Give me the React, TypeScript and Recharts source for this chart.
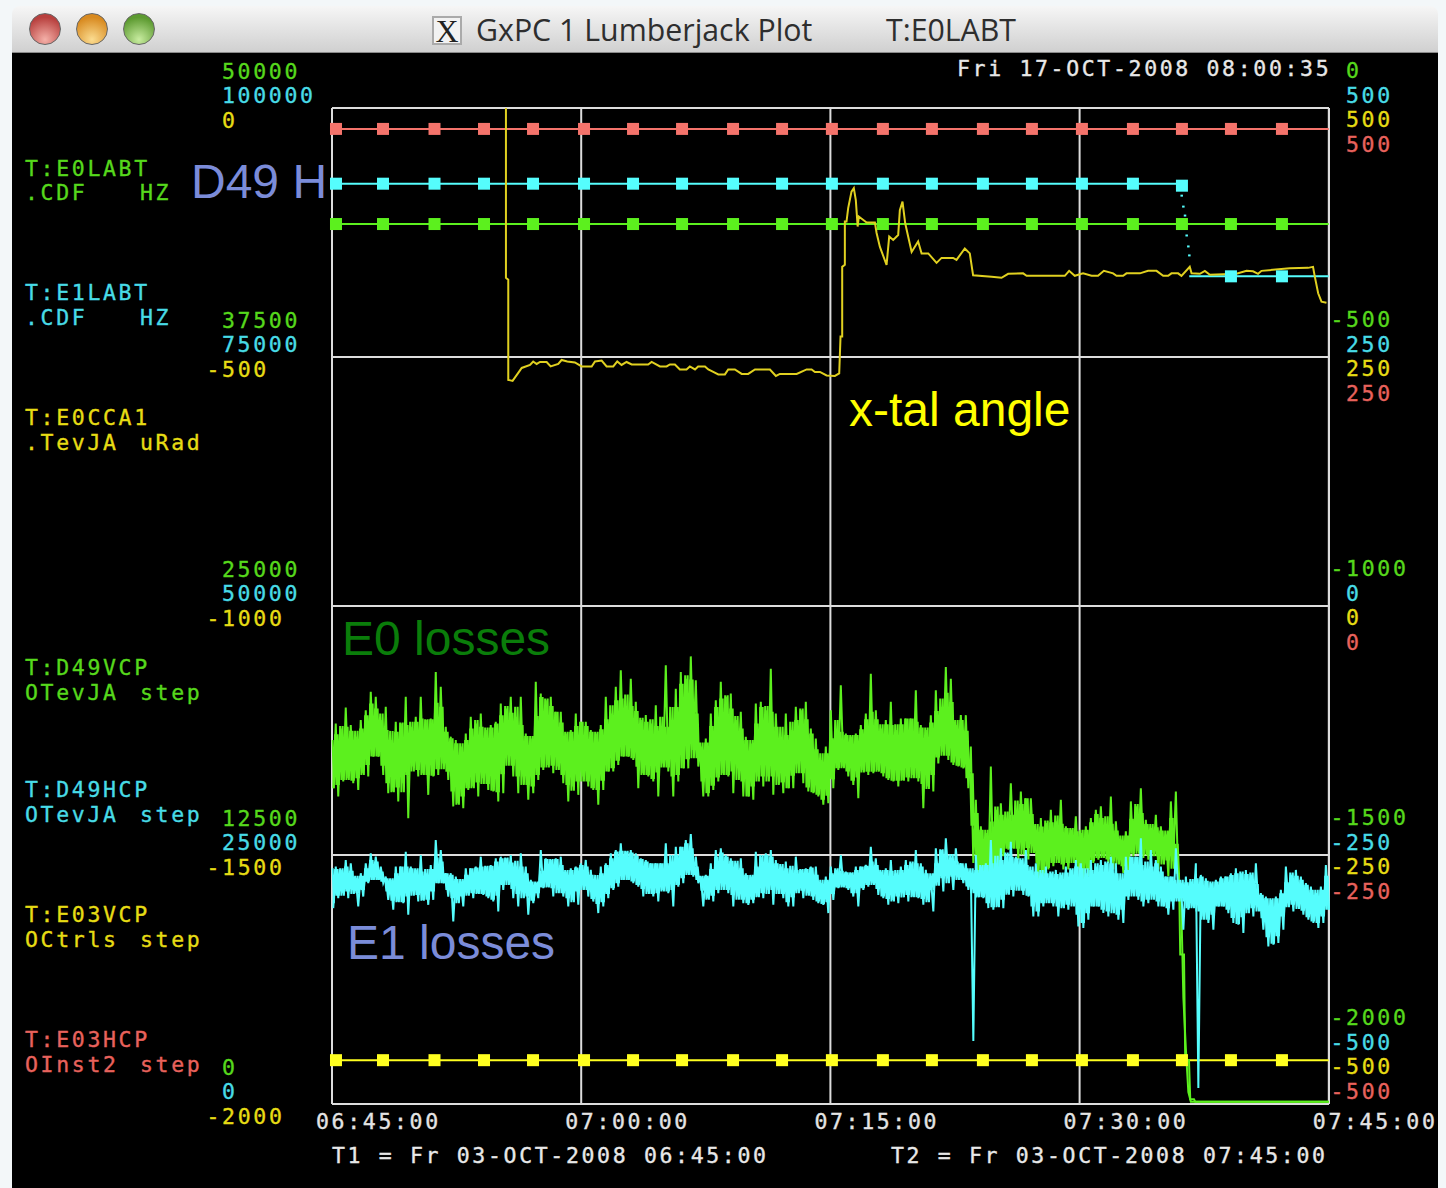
import { CartesianGrid, Line, LineChart, XAxis, YAxis } from "recharts";

const GREEN = "#5cf01e";
const CYAN = "#55fdfd";
const YELLOW = "#ffff20";
const RED = "#f4736b";
const GREEN_TEXT = "#56d81c";
const CYAN_TEXT = "#48dbe6";
const YELLOW_TEXT = "#e6dc14";
const RED_TEXT = "#e8625c";
const MONO = "'DejaVu Sans Mono', monospace";
const SANS = "'Liberation Sans', Arial, sans-serif";
const MONO_SIZE = 21.5;
const MONO_GAP = 2.65;
const MONO_STROKE = 0.35;

// minutes after 06:45:00
const timeTicks = [0, 15, 30, 45, 60];
const timeLabels = ["06:45:00", "07:00:00", "07:15:00", "07:30:00", "07:45:00"];

const stepTimes = [0, 0.24, 3.07, 6.17, 9.15, 12.1, 15.17, 18.12, 21.07, 24.14, 27.09, 30.09, 33.16, 36.11, 39.18, 42.13, 45.14, 48.21, 51.16, 54.11, 57.18, 60];
const markerTimes = [0.24, 3.07, 6.17, 9.15, 12.1, 15.17, 18.12, 21.07, 24.14, 27.09, 30.09, 33.16, 36.11, 39.18, 42.13, 45.14, 48.21, 51.16, 54.11, 57.18];

const d49vLevel = -233;
const e03vLevel = -456;
const e03hLevel = 479;

// D49H sits at 424, then steps down to 331
const d49hTimes = [0, 0.24, 3.07, 6.17, 9.15, 12.1, 15.17, 18.12, 21.07, 24.14, 27.09, 30.09, 33.16, 36.11, 39.18, 42.13, 45.14, 48.21, 51.15, 51.16, 51.4, 51.6, 54.11, 57.18, 60];
const d49hValues = [424, 424, 424, 424, 424, 424, 424, 424, 424, 424, 424, 424, 424, 424, 424, 424, 424, 424, 424, 422, null, 331, 331, 331, 331];
const d49hDropTimes = [51.13, 51.23, 51.33, 51.43, 51.53, 51.59];
const d49hDropValues = [412, 401, 392, 372, 361, 352];

// crystal angle, uRad
const angleTimes = [
  10.47, 10.47, 10.61, 10.61, 10.87, 11.21, 11.42, 11.92, 12.11, 12.32, 12.52, 12.92, 13.16, 13.62, 13.82, 14.16, 14.62, 15.03, 15.63, 15.83,
  16.23, 16.53, 16.93, 17.17, 17.43, 17.73, 18.04, 19.03, 19.24, 19.74, 20.14, 20.34, 20.64, 20.94, 21.34, 21.54, 21.85, 22.04, 22.45, 22.65,
  22.95, 23.25, 23.65, 23.85, 24.25, 24.66, 25.05, 25.46, 26.36, 26.72, 26.96, 27.97, 28.57, 28.87, 29.07, 29.37, 29.77, 30.27, 30.53, 30.61,
  30.71, 30.71, 30.87, 30.87, 30.97, 31.07, 31.27, 31.41, 31.53, 31.64, 31.71, 32.18, 32.68, 32.78, 32.98, 33.38, 33.54, 33.78, 34.08, 34.18,
  34.34, 34.5, 34.68, 34.89, 35.28, 35.49, 35.89, 36.39, 36.69, 37.39, 37.59, 38.09, 38.39, 38.59, 39.7, 40.3, 40.7, 41.6, 41.81, 44.11,
  44.37, 44.71, 45.21, 45.72, 46.11, 46.46, 47.02, 47.22, 47.62, 47.82, 48.63, 49.12, 49.63, 50.03, 50.33, 50.53, 50.93, 51.13, 51.63, 51.74,
  52.24, 52.54, 52.84, 54.44, 55.05, 55.44, 55.74, 55.95, 57.65, 58.75, 59.05, 59.16, 59.36, 59.56, 59.86,
];
const angleValues = [
  0, -341, -345, -546, -548, -532, -522, -516, -509, -514, -510, -510, -519, -514, -506, -509, -511, -519, -519, -509,
  -507, -519, -519, -509, -516, -510, -515, -515, -510, -519, -519, -515, -515, -525, -525, -519, -525, -519, -519, -525,
  -530, -535, -535, -525, -525, -534, -534, -525, -525, -538, -534, -534, -525, -525, -530, -530, -537, -538, -533, -459,
  -459, -319, -315, -228, -228, -201, -168, -161, -185, -238, -218, -230, -230, -251, -279, -315, -258, -265, -255, -205,
  -188, -231, -258, -289, -268, -292, -292, -311, -301, -301, -305, -282, -292, -336, -339, -341, -333, -332, -337, -337,
  -327, -337, -332, -337, -337, -327, -332, -337, -337, -332, -332, -327, -327, -337, -337, -332, -332, -337, -319, -332,
  -333, -327, -335, -333, -327, -328, -333, -327, -322, -321, -319, -339, -372, -389, -391,
];

// E0 / E1 losses: top and bottom of the noise band per sample, Hz
const SAMPLE_MINUTES = 0.301;
const greenHi = [
  18270, 19100, 18850, 19900, 19020, 18440, 19270, 19770, 20690, 20440, 19270, 19940, 18270, 19190, 19100, 20440, 18940, 19440, 20440, 19270,
  19350, 21690, 20940, 18940, 18440, 18270, 17940, 18600, 19440, 19100, 19600, 18770, 19020, 19190, 20100, 19850, 20440, 19440, 20440, 18600,
  18350, 21190, 20600, 20270, 20440, 19690, 19690, 18600, 18770, 19600, 19190, 19190, 18770, 18600, 19020, 20440, 19600, 20940, 21770, 19770,
  21350, 20190, 19270, 19520, 19100, 20020, 18850,
  22020, 19020, 20850, 21690, 21350, 22470, 21270, 17940, 18350, 19600, 20270, 21190, 20440, 20600, 19270, 19690, 18440, 18100, 20100, 20190,
  19770, 21850, 19600, 18270, 19600, 18770, 19940, 19770, 20190, 18850, 18350, 17270, 17940, 19770, 18770, 21020, 18600, 18440, 18600, 19020,
  19600, 21600, 19770, 18850, 19270, 20190, 18770, 19350, 19350, 19350, 20770, 19020, 18770, 19520, 20770, 19940, 21940, 21350, 19020, 19520,
  19520, 17940, 15270, 13940, 13600, 16940, 14770,
  15100, 14270, 16100, 14770, 15690, 15350, 15350, 13770, 14350, 14100, 14770, 14190, 15270, 13940, 13770, 14440, 13600, 13940, 14350, 14770,
  14940, 13940, 15440, 14190, 13270, 13690, 15190, 14940, 15850, 14270, 13850, 14520, 13940, 13520, 15190, 15690, 10940, 2770, 110,
  110, 110, 110, 110, 110, 110, 110, 110, 110, 110, 110, 110, 110, 110, 110, 110, 110, 110, 110, 110, 110, 110, 110, 110, 110, 110, 110,
];
const greenLo = [
  15850, 15440, 16190, 16350, 16100, 15770, 16600, 16440, 17440, 17440, 16520, 15600, 15690, 15190, 16100, 14350, 16940, 16440, 16600, 15520,
  16440, 16520, 17100, 16270, 14940, 15100, 14850, 15770, 15940, 15440, 16350, 15770, 15690, 15190, 15600, 17520, 16440, 15600, 16440, 15270,
  15600, 16270, 16770, 17020, 16600, 16940, 16100, 15190, 15940, 15520, 16440, 15940, 15770, 15020, 15770, 16690, 16690, 17020, 17440, 17440,
  17270, 15850, 16600, 16440, 16190, 15440, 17100,
  16690, 15440, 16190, 16850, 16850, 17770, 16940, 15440, 15440, 15770, 16190, 16600, 16440, 15600, 16940, 15440, 15440, 15270, 16440, 15940,
  16440, 15520, 16440, 15600, 15850, 15850, 17100, 16100, 15690, 15600, 15440, 15020, 15100, 15850, 16770, 16940, 16440, 16020, 15350, 16770,
  16520, 16600, 16770, 16440, 16270, 16190, 15940, 16270, 16190, 16520, 16190, 14850, 15940, 15690, 17100, 17690, 17270, 17020, 16940, 16850,
  15850, 12100, 11270, 11270, 11270, 11270, 11270,
  12440, 12770, 12850, 12270, 12770, 12270, 12940, 11270, 11270, 11770, 11940, 12270, 11770, 11770, 12440, 11770, 11270, 11440, 12100, 12270,
  12440, 12100, 11770, 12270, 11600, 11190, 12440, 12690, 12350, 12270, 12600, 11770, 12270, 11440, 12190, 10940, 5350, 600, 110,
  110, 110, 110, 110, 110, 110, 110, 110, 110, 110, 110, 110, 110, 110, 110, 110, 110, 110, 110, 110, 110, 110, 110, 110, 110, 110, 110,
];
const cyanHi = [
  23670, 23830, 23500, 24500, 24170, 22670, 23170, 24170, 25170, 24830, 23830, 22830, 22500, 23830, 23830, 25330, 23830, 23500, 25000, 23170,
  24000, 26500, 25500, 23170, 23170, 22830, 22330, 23670, 23670, 23830, 24830, 23830, 24000, 24670, 24830, 24670, 25000, 23830, 25170, 23830,
  22500, 22170, 25500, 24670, 24500, 24670, 24830, 23330, 23670, 23830, 24170, 24500, 23500, 22500, 23830, 24170, 25170, 25500, 26170, 25330,
  25500, 25170, 24670, 24500, 24170, 24170, 24170,
  26170, 24170, 25830, 25830, 26500, 27100, 24830, 22830, 23000, 24170, 25500, 25670, 25000, 24670, 24170, 24670, 23170, 22830, 25330, 24830,
  25170, 25500, 24500, 23830, 24330, 23500, 24830, 23500, 23670, 23830, 23830, 22170, 22830, 23830, 23500, 25000, 23330, 23170, 23830, 23830,
  24000, 25830, 24670, 23330, 23670, 24500, 23170, 23830, 24500, 24170, 25500, 24170, 23500, 22830, 25670, 25500, 26670, 24500, 25670, 24170,
  24170, 23170, 25000, 23830, 24170, 26500, 24170,
  25670, 24830, 26330, 24830, 24500, 25500, 23500, 24170, 23170, 23830, 23170, 23500, 23000, 23830, 23500, 24500, 24170, 23170, 24500, 23830,
  24500, 24170, 24830, 24170, 22170, 24830, 24830, 24830, 26670, 23170, 25500, 24500, 23830, 22830, 22830, 25670, 22170, 22830, 22330, 24170,
  23000, 22670, 22170, 22500, 22830, 22830, 23170, 23670, 23170, 23500, 23000, 24170, 21170, 20830, 20500, 20830, 21500, 23830, 23000, 23500,
  22830, 22170, 21830, 21170, 21830, 24000,
];
const cyanLo = [
  19670, 20670, 21170, 20670, 21500, 19830, 20830, 22170, 22500, 22500, 22170, 20500, 19500, 20330, 20170, 19000, 21500, 20330, 20500, 20000,
  20500, 22170, 22170, 20830, 18330, 20500, 19830, 21170, 20670, 21170, 21000, 20670, 20330, 19330, 21500, 22500, 20670, 19830, 21500, 19000,
  20170, 20670, 21670, 21830, 20830, 21500, 20830, 19830, 20500, 20000, 22170, 20830, 20330, 19170, 19830, 20670, 21500, 21830, 22500, 22500,
  22170, 21830, 20830, 21330, 20830, 20330, 21500,
  21170, 19830, 21830, 22170, 23170, 22830, 22170, 19830, 20670, 20330, 21170, 21830, 21170, 19830, 20830, 20170, 20000, 20170, 20830, 20670,
  21500, 20000, 21500, 20670, 19830, 19830, 21670, 20670, 21170, 20500, 20170, 20000, 19170, 20500, 21670, 21830, 21500, 20830, 19830, 21500,
  21830, 22170, 21000, 20670, 20000, 20500, 20170, 21170, 20330, 20830, 20670, 20000, 20500, 19330, 22500, 21330, 22830, 21500, 22830, 22170,
  21500, 6320, 20830, 20670, 19670, 19500, 19830,
  19670, 21170, 20830, 21830, 21000, 20830, 18830, 18830, 19830, 20500, 19830, 18830, 19830, 19500, 20170, 17830, 17670, 18500, 19830, 19830,
  19170, 18830, 19500, 18500, 18170, 20500, 21170, 20500, 19830, 20170, 20830, 19830, 19830, 19000, 19500, 21170, 17500, 19500, 19830, 1600,
  18830, 18170, 17500, 19830, 19830, 19170, 18170, 18000, 17170, 19500, 18830, 19830, 17500, 15830, 16000, 16170, 17500, 20170, 19330, 19830,
  19000, 18500, 18170, 17670, 18170, 19500,
];

const traceNames = [
  { top: 169, color: GREEN_TEXT, text: "T:E0LABT" },
  { top: 193, color: GREEN_TEXT, text: ".CDF", unit: "HZ" },
  { top: 293, color: CYAN_TEXT, text: "T:E1LABT" },
  { top: 318, color: CYAN_TEXT, text: ".CDF", unit: "HZ" },
  { top: 418, color: YELLOW_TEXT, text: "T:E0CCA1" },
  { top: 443, color: YELLOW_TEXT, text: ".TevJA", unit: "uRad" },
  { top: 668, color: GREEN_TEXT, text: "T:D49VCP" },
  { top: 693, color: GREEN_TEXT, text: "OTevJA", unit: "step" },
  { top: 790, color: CYAN_TEXT, text: "T:D49HCP" },
  { top: 815, color: CYAN_TEXT, text: "OTevJA", unit: "step" },
  { top: 915, color: YELLOW_TEXT, text: "T:E03VCP" },
  { top: 940, color: YELLOW_TEXT, text: "OCtrls", unit: "step" },
  { top: 1040, color: RED_TEXT, text: "T:E03HCP" },
  { top: 1065, color: RED_TEXT, text: "OInst2", unit: "step" },
];

type Row = { t: number; v: number | null; marker?: boolean };

const noiseRows = (hi: number[], lo: number[]): Row[] =>
  hi.flatMap((h, i) => [
    { t: i * SAMPLE_MINUTES - SAMPLE_MINUTES / 4, v: h },
    { t: i * SAMPLE_MINUTES + SAMPLE_MINUTES / 4, v: lo[i] },
  ]).filter((r) => r.t >= 0);

const sorted3 = (list: number[], i: number) =>
  [list[Math.max(i - 1, 0)], list[i], list[Math.min(i + 1, list.length - 1)]].sort((a, b) => a - b);

// solid middle of the band, halfway between the neighbours' inner edge and their median
const coreRows = (hi: number[], lo: number[]): Row[] =>
  hi.flatMap((_, i) => {
    const highs = sorted3(hi, i);
    const lows = sorted3(lo, i);
    const top = (highs[0] + highs[1]) / 2;
    const bottom = (lows[1] + lows[2]) / 2;
    const a = top > bottom ? top : (top + bottom) / 2;
    const b = top > bottom ? bottom : (top + bottom) / 2;
    const t = i * SAMPLE_MINUTES;
    const q = SAMPLE_MINUTES / 4;
    return [
      { t: t - 1.5 * q, v: a },
      { t: t - 0.5 * q, v: b },
      { t: t + 0.5 * q, v: a },
      { t: t + 1.5 * q, v: b },
    ];
  }).filter((r) => r.t >= 0);

const levelRows = (level: number): Row[] =>
  stepTimes.map((t) => ({ t, v: level, marker: markerTimes.includes(t) }));

const pairRows = (times: number[], values: (number | null)[]): Row[] =>
  times.map((t, i) => ({ t, v: values[i], marker: markerTimes.includes(t) }));

const squareDot = (color: string) => (props: any) => {
  const { cx, cy, payload, index } = props;
  if (!payload?.marker || cy == null) return <g key={index} />;
  return <rect key={index} x={cx - 6} y={cy - 6} width={12} height={12} fill={color} />;
};

const smallDot = (color: string) => (props: any) => (
  <rect key={props.index} x={props.cx - 1} y={props.cy - 1} width={2.5} height={2} fill={color} />
);

const valueText = (x: number, y: number, value: number | string, color: string) => {
  const negative = typeof value === "number" && value < 0;
  return (
    <text
      x={negative ? x - 15.5 : x}
      y={y + 7.5}
      fill={color}
      stroke={color}
      strokeWidth={MONO_STROKE}
      fontFamily={MONO}
      fontSize={MONO_SIZE}
      letterSpacing={MONO_GAP}
    >
      {value}
    </text>
  );
};

const leftTick = (offset: number, color: string) => (props: any) =>
  valueText(222, props.y + offset, props.payload.value, color);

// the bottom row on the right is pushed up so it stays inside the window
const rightTick = (offset: number, color: string) => (props: any) =>
  valueText(1346, props.y + offset - (props.y > 1100 ? 49 : 0), props.payload.value, color);

const timeTick = (props: any) => (
  <text
    x={props.x - 16}
    y={1128.5}
    fill="#e4e4e4"
    stroke="#e4e4e4"
    strokeWidth={MONO_STROKE}
    fontFamily={MONO}
    fontSize={MONO_SIZE}
    letterSpacing={MONO_GAP}
  >
    {timeLabels[timeTicks.indexOf(props.payload.value)]}
  </text>
);

type YDef = { id: string; side: "left" | "right"; domain: [number, number]; ticks: number[]; tick: any };

const yAxes: YDef[] = [
  { id: "e0", side: "left", domain: [0, 50000], ticks: [0, 12500, 25000, 37500, 50000], tick: leftTick(-37, GREEN_TEXT) },
  { id: "e1", side: "left", domain: [0, 100000], ticks: [0, 25000, 50000, 75000, 100000], tick: leftTick(-12.5, CYAN_TEXT) },
  { id: "angle", side: "left", domain: [-2000, 0], ticks: [-2000, -1500, -1000, -500, 0], tick: leftTick(12, YELLOW_TEXT) },
  { id: "d49v", side: "right", domain: [-2000, 0], ticks: [-2000, -1500, -1000, -500, 0], tick: rightTick(-37.5, GREEN_TEXT) },
  { id: "d49h", side: "right", domain: [-500, 500], ticks: [-500, -250, 0, 250, 500], tick: rightTick(-13, CYAN_TEXT) },
  { id: "e03v", side: "right", domain: [-500, 500], ticks: [-500, -250, 0, 250, 500], tick: rightTick(11.5, YELLOW_TEXT) },
  { id: "e03h", side: "right", domain: [-500, 500], ticks: [-500, -250, 0, 250, 500], tick: rightTick(36, RED_TEXT) },
];

function MonoLine({ left, top, color, children }: { left: number; top: number; color: string; children: string }) {
  return (
    <div
      style={{
        position: "absolute",
        left,
        top: top - 14,
        height: 28,
        lineHeight: "28px",
        color,
        fontFamily: MONO,
        fontSize: MONO_SIZE,
        letterSpacing: MONO_GAP,
        WebkitTextStroke: `${MONO_STROKE}px ${color}`,
        whiteSpace: "pre",
      }}
    >
      {children}
    </div>
  );
}

function Note({ left, top, color, children }: { left: number; top: number; color: string; children: string }) {
  return (
    <div
      style={{
        position: "absolute",
        left,
        top: top - 30,
        height: 60,
        lineHeight: "60px",
        color,
        fontFamily: SANS,
        fontSize: 48,
        whiteSpace: "pre",
      }}
    >
      {children}
    </div>
  );
}

function Light({ left, from, to }: { left: number; from: string; to: string }) {
  return (
    <div
      style={{
        position: "absolute",
        left: left - 16,
        top: 13,
        width: 32,
        height: 32,
        borderRadius: 16,
        boxSizing: "border-box",
        border: "1px solid #666",
        background: `radial-gradient(circle at 50% 85%, ${to} 0%, ${from} 75%)`,
      }}
    />
  );
}

export default function App() {
  return (
    <div style={{ position: "absolute", left: 0, top: 0, width: 1446, height: 1188, background: "#f3f7f9", overflow: "hidden" }}>
      <div
        style={{
          position: "absolute",
          left: 12,
          top: 6,
          width: 1426,
          height: 47,
          borderRadius: "8px 8px 0 0",
          background: "linear-gradient(#f6f6f6, #d0d0d0)",
          borderBottom: "1px solid #8a8a8a",
          boxSizing: "border-box",
        }}
      />
      <Light left={45} from="#b8403e" to="#f4b0a8" />
      <Light left={92} from="#d88a20" to="#fbdc90" />
      <Light left={139} from="#5c9a30" to="#c8eca0" />
      <div
        style={{
          position: "absolute",
          left: 432,
          top: 16,
          width: 30,
          height: 29,
          boxSizing: "border-box",
          border: "2px solid #aaa",
          background: "#f2f2f2",
          color: "#222",
          fontFamily: "'Liberation Serif', serif",
          fontSize: 32,
          lineHeight: "27px",
          textAlign: "center",
        }}
      >
        X
      </div>
      <div style={{ position: "absolute", left: 476, top: 12, lineHeight: "36px", fontFamily: "'Open Sans', sans-serif", fontSize: 30.3, color: "#2e2e2e", whiteSpace: "pre" }}>
        GxPC 1 Lumberjack Plot
      </div>
      <div style={{ position: "absolute", left: 886, top: 12, lineHeight: "36px", fontFamily: "'Open Sans', sans-serif", fontSize: 30.3, color: "#2e2e2e", whiteSpace: "pre" }}>
        T:E0LABT
      </div>
      <div style={{ position: "absolute", left: 12, top: 53, width: 1426, height: 1135, background: "#000" }} />

      <LineChart
        width={1446}
        height={1188}
        margin={{ left: 329, right: 113, top: 108, bottom: 83 }}
        style={{ position: "absolute", left: 0, top: 0 }}
      >
        <CartesianGrid yAxisId="angle" stroke="#dcdcdc" strokeWidth={2} fill="none" />
        <XAxis
          dataKey="t"
          type="number"
          domain={[0, 60]}
          ticks={timeTicks}
          interval={0}
          height={1}
          axisLine={false}
          tickLine={false}
          tick={timeTick}
        />
        {yAxes.map((a) => (
          <YAxis
            key={a.id}
            yAxisId={a.id}
            orientation={a.side}
            type="number"
            domain={a.domain}
            ticks={a.ticks}
            interval={0}
            width={1}
            axisLine={false}
            tickLine={false}
            tick={a.tick}
          />
        ))}
        <Line data={levelRows(d49vLevel)} dataKey="v" yAxisId="d49v" stroke={GREEN} strokeWidth={2} dot={squareDot(GREEN)} isAnimationActive={false} />
        <Line data={pairRows(d49hTimes, d49hValues)} dataKey="v" yAxisId="d49h" stroke={CYAN} strokeWidth={2} dot={squareDot(CYAN)} isAnimationActive={false} />
        <Line data={pairRows(d49hDropTimes, d49hDropValues)} dataKey="v" yAxisId="d49h" stroke="none" dot={smallDot(CYAN)} isAnimationActive={false} />
        <Line data={levelRows(e03vLevel)} dataKey="v" yAxisId="e03v" stroke={YELLOW} strokeWidth={2} dot={squareDot(YELLOW)} isAnimationActive={false} />
        <Line data={levelRows(e03hLevel)} dataKey="v" yAxisId="e03h" stroke={RED} strokeWidth={2} dot={squareDot(RED)} isAnimationActive={false} />
        <Line data={noiseRows(greenHi, greenLo)} dataKey="v" yAxisId="e0" stroke={GREEN} strokeWidth={2} dot={false} isAnimationActive={false} />
        <Line data={coreRows(greenHi, greenLo)} dataKey="v" yAxisId="e0" stroke={GREEN} strokeWidth={2} dot={false} isAnimationActive={false} />
        <Line data={noiseRows(cyanHi, cyanLo)} dataKey="v" yAxisId="e1" stroke={CYAN} strokeWidth={2} dot={false} isAnimationActive={false} />
        <Line data={coreRows(cyanHi, cyanLo)} dataKey="v" yAxisId="e1" stroke={CYAN} strokeWidth={2} dot={false} isAnimationActive={false} />
        <Line data={pairRows(angleTimes, angleValues)} dataKey="v" yAxisId="angle" stroke="#e0d020" strokeWidth={2} dot={false} isAnimationActive={false} />
      </LineChart>

      {traceNames.map((n) => (
        <div key={n.top}>
          <MonoLine left={25} top={n.top} color={n.color}>
            {n.text}
          </MonoLine>
          {n.unit && (
            <MonoLine left={140} top={n.top} color={n.color}>
              {n.unit}
            </MonoLine>
          )}
        </div>
      ))}
      <MonoLine left={957} top={69} color="#e8e8e8">Fri 17-OCT-2008 08:00:35</MonoLine>
      <MonoLine left={332} top={1156} color="#e8e8e8">T1 = Fr 03-OCT-2008 06:45:00</MonoLine>
      <MonoLine left={891} top={1156} color="#e8e8e8">T2 = Fr 03-OCT-2008 07:45:00</MonoLine>

      <Note left={191} top={182} color="#7b8cd9">D49 H</Note>
      <Note left={849} top={410} color="#ffff00">x-tal angle</Note>
      <Note left={342} top={639} color="#0a7d0a">E0 losses</Note>
      <Note left={347} top={943} color="#7b8cd9">E1 losses</Note>
    </div>
  );
}
